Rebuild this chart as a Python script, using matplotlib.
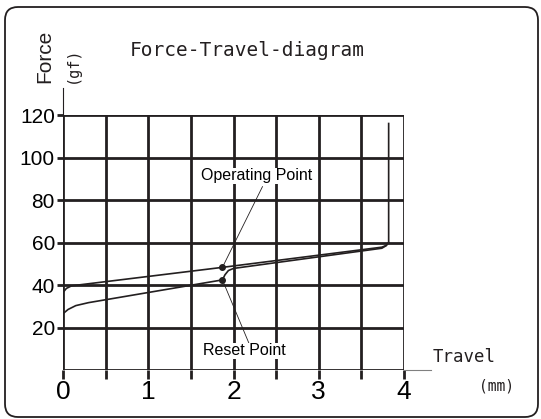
import matplotlib
matplotlib.use("Agg")
import matplotlib.pyplot as plt
from matplotlib.patches import FancyBboxPatch

# 行程-压力曲线(读图估值)
press_x = [0.0, 0.04, 0.10, 0.22, 1.87, 3.74, 3.79, 3.82, 3.82]
press_f = [36.5, 38.4, 39.6, 40.2, 48.3, 57.8, 58.6, 60.0, 116.0]
return_x = [0.0, 0.06, 0.15, 0.30, 1.87, 1.90, 1.94, 2.00, 3.74, 3.79, 3.82]
return_f = [26.5, 28.5, 30.3, 31.7, 42.4, 44.8, 46.8, 47.8, 57.3, 58.5, 60.0]
operating_pt = (1.87, 48.3)
reset_pt = (1.87, 42.4)

x_ticks = [0, 1, 2, 3, 4]
x_grid = [0, 0.5, 1, 1.5, 2, 2.5, 3, 3.5, 4]
y_ticks = [20, 40, 60, 80, 100, 120]
y_grid = [0, 20, 40, 60, 80, 100, 120]

W, H = 541, 419
INK = "#231f20"
fig = plt.figure(figsize=(W / 100, H / 100), dpi=100)

# 圆角外框
frame = FancyBboxPatch((0.05, 0.02), 5.33, 4.10, boxstyle="round,pad=0,rounding_size=0.13",
                       transform=fig.dpi_scale_trans, fc="none", ec=INK, lw=1.3)
fig.add_artist(frame)

ax = fig.add_axes([63 / W, 1 - 370 / H, (404 - 63) / W, (370 - 115) / H])
ax.set_xlim(0, 4)
ax.set_ylim(0, 120)
for s in ax.spines.values():
    s.set_visible(False)

for yv in y_grid:
    ax.plot([0, 4], [yv, yv], color=INK, lw=2.0, zorder=1, solid_capstyle="butt")
for xv in x_grid:
    ax.plot([xv, xv], [0, 120], color=INK, lw=2.0, zorder=1, solid_capstyle="butt")

# 轴线延伸
ax.plot([0, 0], [120, 132.7], color=INK, lw=0.8, clip_on=False)
ax.plot([4, 4.32], [0, 0], color="#808080", lw=0.8, clip_on=False)

ax.set_xticks(x_grid)
ax.set_xticklabels([str(v) if v in x_ticks else "" for v in x_grid],
                   family="Liberation Sans", fontsize=19)
ax.set_yticks(y_ticks)
ax.set_yticklabels([str(v) for v in y_ticks], family="Liberation Sans", fontsize=15)
ax.tick_params(axis="x", direction="out", length=6.5, width=2.0, color=INK, pad=0.5)
ax.tick_params(axis="y", direction="out", length=4.3, width=2.0, color=INK, pad=1.5)

ax.plot(press_x, press_f, color=INK, lw=1.2, zorder=3)
ax.plot(return_x, return_f, color=INK, lw=1.2, zorder=3)
ax.plot(*operating_pt, "o", color=INK, ms=4, zorder=4)
ax.plot(*reset_pt, "o", color=INK, ms=4, zorder=4)

lab = dict(family="Liberation Sans", fontsize=11.5, ha="center", va="center", zorder=5,
           bbox=dict(fc="white", ec="none", pad=0.5))
ax.text(2.27, 91.3, "Operating Point", **lab)
ax.text(2.13, 9.0, "Reset Point", **lab)
ax.plot([2.34, operating_pt[0]], [86.3, operating_pt[1]], color=INK, lw=0.6, zorder=4)
ax.plot([2.18, reset_pt[0]], [12.7, reset_pt[1]], color=INK, lw=0.6, zorder=4)

mono = "DejaVu Sans Mono"
fig.text(130 / W, 1 - 50 / H, "Force-Travel-diagram", family=mono, fontsize=14,
         ha="left", va="center", color=INK)
fig.text(45 / W, 1 - 56 / H, "Force", family="Liberation Sans", fontsize=15,
         rotation=90, ha="center", va="center", color=INK)
fig.text(72 / W, 1 - 65 / H, "(gf)", family=mono, fontsize=11,
         rotation=90, ha="center", va="center", color=INK)
fig.text(433 / W, 1 - 357 / H, "Travel", family=mono, fontsize=12.5,
         ha="left", va="center", color=INK)
fig.text(497 / W, 1 - 386 / H, "(mm)", family=mono, fontsize=10.5,
         ha="center", va="center", color=INK)

fig.savefig("out.png", dpi=100)
